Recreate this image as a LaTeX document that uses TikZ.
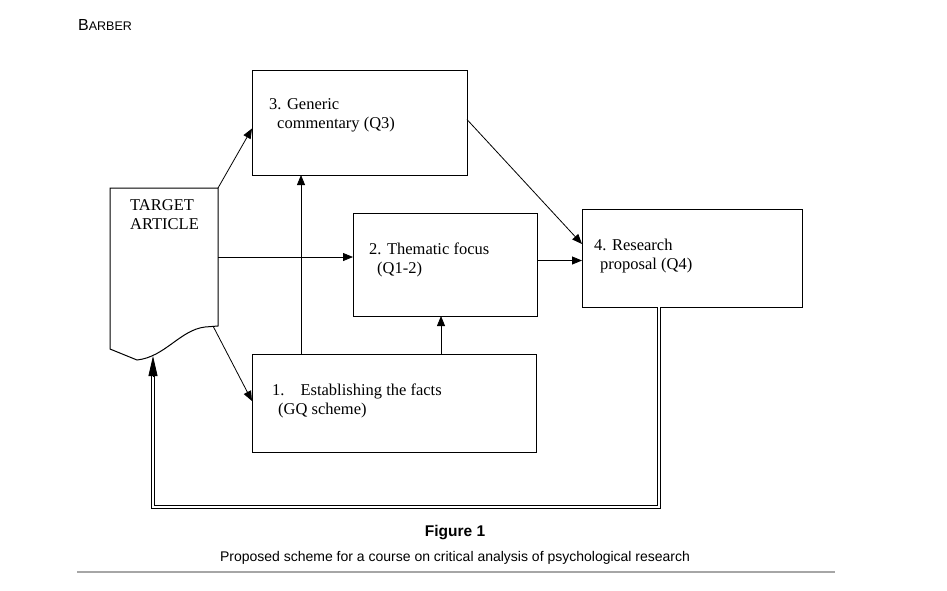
\documentclass[tikz,border=0pt]{standalone}
\usepackage{fontspec}
\setmainfont{Liberation Serif}
\setsansfont{Liberation Sans}
\usetikzlibrary{arrows.meta}
\tikzset{
	box/.style={draw, line width=1pt, inner sep=0pt, outer sep=0pt},
	txt/.style={font=\fontsize{16.5}{19}\selectfont, align=left, inner sep=0pt, anchor=north west},
	arr/.style={line width=0.8pt, -{Triangle[length=10pt,width=8pt]}},
	dbl/.style={double, double distance=2.6pt, line width=0.9pt}
}
\begin{document}
\begin{tikzpicture}[x=1pt,y=-1pt]
			\useasboundingbox (0,0) rectangle (947,590);
			\node[anchor=base west, inner sep=0pt, font=\sffamily] (head) at (78,30) {\fontsize{16}{16}\selectfont B\fontsize{12.5}{16}\selectfont ARBER};
			\node[inner sep=0pt, outer sep=0pt, minimum width=108, minimum height=138] (art) at (164,257) {};
			\coordinate (wave) at (153,356);
			\draw[line width=1pt] (110,349) -- (art.north west) -- (art.north east) -- (art.south east) -- (205,327) .. controls (180,330) and (165,357) .. (137,360) -- cycle;
			\node[txt] (tart) at (130,199.5) {TARGET\\ARTICLE};
			\node[box, minimum width=215, minimum height=105] (b3) at (359.5,122.5) {};
			\node[box, minimum width=184, minimum height=103] (b2) at (445,264.5) {};
			\node[box, minimum width=220, minimum height=98] (b4) at (692,258) {};
			\node[box, minimum width=284, minimum height=98] (b1) at (394,403) {};
			\node[txt] (t3) at ([shift={(17,28.5)}]b3.north west) {3. Generic\\\hspace*{8pt}commentary (Q3)};
			\node[txt] (t2) at ([shift={(16,29.5)}]b2.north west) {2. Thematic focus\\\hspace*{8pt}(Q1-2)};
			\node[txt] (t4) at ([shift={(12,29.5)}]b4.north west) {4. Research\\\hspace*{6pt}proposal (Q4)};
			\node[txt] (t1) at ([shift={(20,29.5)}]b1.north west) {1.\hspace{16pt}Establishing the facts\\\hspace*{6pt}(GQ scheme)};
			\draw[arr] (art.north east) -- ([yshift=-6pt]b3.west);
			\draw[arr] (art.east) -- (art.east -| b2.west);
			\draw[arr] ([xshift=-5pt]art.south east) -- ([yshift=2pt]b1.west);
			\draw[arr] ([xshift=-93pt]b1.north) -- ([xshift=-93pt]b1.north |- b3.south);
			\draw[arr] ([xshift=47pt]b1.north) -- ([xshift=47pt]b1.north |- b2.south);
			\draw[arr] ([yshift=4pt]b2.east) -- ([yshift=4pt]b2.east -| b4.west);
			\draw[arr] ([yshift=3pt]b3.east) -- ([yshift=14pt]b4.west);
			\draw[dbl] ([xshift=-33pt]b4.south) -- ++(0,200) -| ([yshift=-20pt]wave);
			\draw[line width=0.8pt, -{Triangle[length=20pt,width=9pt]}] ([yshift=-21pt]wave) -- (wave);
			\node[anchor=base, inner sep=0pt, font=\sffamily\bfseries\fontsize{15.5}{18}\selectfont] (fig) at (455,536) {Figure 1};
			\node[anchor=base, inner sep=0pt, font=\sffamily\fontsize{14}{16}\selectfont] (cap) at (455,561) {Proposed scheme for a course on critical analysis of psychological research};
			\draw[black!35, line width=1.8pt] (77,572) -- (835,572);
		\end{tikzpicture}
\end{document}
